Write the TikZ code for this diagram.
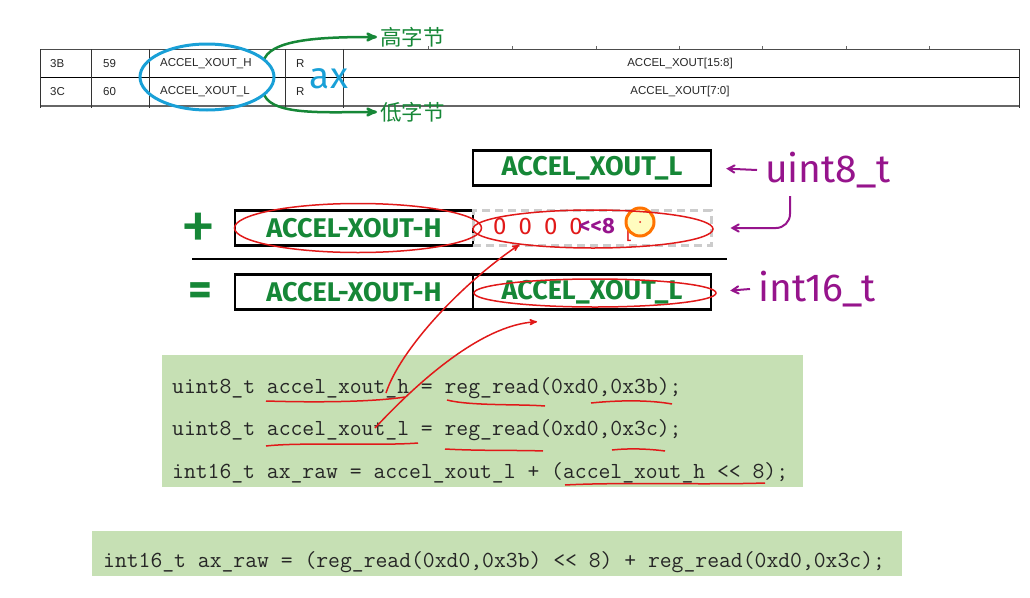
\documentclass[tikz,border=0pt]{standalone}
\usepackage{fontspec}
\usepackage{xcolor}
\usepackage{tikz}
\usetikzlibrary{arrows,positioning,shapes.geometric}
\setmainfont{Liberation Sans}
\newfontfamily\cjk{Noto Sans CJK SC}
\newfontfamily\inkfont{Fira Sans}
\definecolor{inkgreen}{RGB}{22,135,55}
\definecolor{inkpurple}{RGB}{150,20,140}
\definecolor{inkred}{RGB}{225,25,25}
\definecolor{inkblue}{RGB}{25,160,215}
\definecolor{codebg}{RGB}{198,224,180}

\begin{document}
\begin{tikzpicture}[x=1pt,y=-1pt]
  \useasboundingbox (0,0) rectangle (1030,597);
  \begin{scope}[node distance=238pt,on grid,>=stealth',
    cell/.style={font=\fontsize{11.5}{13}\selectfont,text=black!85,anchor=west,inner sep=0pt},
    block/.style={rectangle,draw,line width=2.5pt,minimum width=238pt,minimum height=35pt,font=\inkfont\bfseries\fontsize{27}{28}\selectfont,text=inkgreen},
    padbox/.style={rectangle,draw=gray!40,dash pattern=on 8pt off 5pt,line width=3pt,minimum width=238pt,minimum height=35pt},
    ring/.style={ellipse,draw=inkred,line width=1.5pt,inner sep=0pt},
    typenote/.style={font=\inkfont\fontsize{39}{40}\selectfont,text=inkpurple,anchor=west,inner sep=8pt},
    codeline/.style={font=\ttfamily\fontsize{23}{24}\selectfont,text=black!85,anchor=base west,inner sep=0pt},
    codebox/.style={rectangle,fill=codebg,inner sep=0pt}]

    % register map rows
    \draw[black!70,line width=1pt] (40,49) -- (1019,49);
    \draw[black,line width=1pt] (40,77) -- (1019,77);
    \draw[black!60,line width=1.5pt] (40,106) -- (1019,106);
    \foreach \x in {40,91,149,285,343,1019}
      \draw[black!80,line width=1pt] (\x,49) -- (\x,108);
    \foreach \x in {428,512,596,679,762,846,929}
      \draw[black!60] (\x,46) -- (\x,49);

    \node[cell] (addr_3b) at (50,64) {3B};
    \node[cell] (dec_59) at (103,64) {59};
    \node[cell] (name_h) at (160,64) {ACCEL\_XOUT\_H};
    \node[cell] (rw_h) at (296,64) {R};
    \node[cell,anchor=center] (bits_h) at (680,64) {ACCEL\_XOUT[15:8]};
    \node[cell] (addr_3c) at (50,92) {3C};
    \node[cell] (dec_60) at (103,92) {60};
    \node[cell] (name_l) at (160,92) {ACCEL\_XOUT\_L};
    \node[cell] (rw_l) at (296,92) {R};
    \node[cell,anchor=center] (bits_l) at (680,92) {ACCEL\_XOUT[7:0]};

    \node[ellipse,draw=inkblue,line width=3pt,minimum width=134pt,minimum height=66pt] (xout_ring) at (207,77) {};
    \node[font=\inkfont\fontsize{37}{37}\selectfont,text=inkblue] (ax_note) at (329,79) {ax};
    \node[font=\cjk\fontsize{21.5}{22}\selectfont,text=inkgreen,anchor=west,inner sep=3pt] (hi_byte) at (377,37) {高字节};
    \node[font=\cjk\fontsize{21.5}{22}\selectfont,text=inkgreen,anchor=west,inner sep=3pt] (lo_byte) at (377,112) {低字节};
    \draw[->,inkgreen,line width=2.5pt] (xout_ring.18) .. controls +(10,-20) and +(-50,0) .. (hi_byte.west);
    \draw[->,inkgreen,line width=2.5pt] (xout_ring.-18) .. controls +(10,20) and +(-50,0) .. (lo_byte.west);

    % byte layout
    \node[block] (sum_h) at (354,228) {ACCEL-XOUT-H};
    \node[padbox,right=of sum_h] (shift_pad) {};
    \node[block,above=60pt of shift_pad] (top_l) {ACCEL\_XOUT\_L};
    \node[block,below=64pt of sum_h] (res_h) {ACCEL-XOUT-H};
    \node[block,right=of res_h] (res_l) {ACCEL\_XOUT\_L};
    \node[font=\inkfont\fontsize{72}{72}\selectfont,text=inkgreen,inner sep=0pt] (plus_sign) at (198,232) {+};
    \node[font=\inkfont\bfseries\fontsize{46}{46}\selectfont,text=inkgreen,inner sep=0pt] (eq_sign) at (200,294) {=};
    \coordinate (rule_l) at (192,259);
    \coordinate (rule_r) at (727,259);
    \draw[line width=1.2pt] (rule_l) -- (rule_r);

    \node[typenote] (uint8_note) at (757,170) {uint8\_t};
    \node[typenote] (int16_note) at (750,289) {int16\_t};
    \draw[->,>=angle 60,inkpurple,line width=2pt,shorten >=14pt] (uint8_note.west) -- (top_l.east);
    \draw[->,>=angle 60,inkpurple,line width=2pt,shorten >=18pt] (int16_note.west) -- (res_l.east);
    \draw[->,>=angle 60,inkpurple,line width=2pt,rounded corners=14pt,shorten >=18pt] ([xshift=33pt]uint8_note.south west) |- (shift_pad.east);

    \node[font=\inkfont\fontsize{24}{24}\selectfont,text=inkred] (pad_zeros) at (538,226) {0\hspace{12pt}0\hspace{12pt}0\hspace{12pt}0};
    \node[font=\inkfont\bfseries\fontsize{22}{22}\selectfont,text=inkpurple] (shift_op) at (597,226) {<\kern0pt<8};
    \node[font=\inkfont\fontsize{18}{18}\selectfont,text=inkred] (pad_bracket) at (629,233) {[};
    \node[circle,draw=orange!90!red,line width=3pt,fill=yellow!25,minimum size=28pt,inner sep=0pt] (cursor_mark) at (640,222) {};
    \fill[inkred] (cursor_mark.center) circle (1pt);

    \node[ring,minimum width=247pt,minimum height=49pt] (hi_ring) at (358,228) {};
    \node[ring,minimum width=240pt,minimum height=38pt] (pad_ring) at (593,229) {};
    \node[ring,minimum width=242pt,minimum height=28pt] (lo_ring) at (595,293) {};

    % code blocks
    \node[codebox,minimum width=641pt,minimum height=132pt] (code_box_a) at (482.5,421) {};
    \node[codeline] (code_h) at (172,393) {uint8\_t accel\_xout\_h = reg\_read(0xd0,0x3b);};
    \node[codeline] (code_l) at (172,435.5) {uint8\_t accel\_xout\_l = reg\_read(0xd0,0x3c);};
    \node[codeline] (code_raw) at (172,478) {int16\_t ax\_raw = accel\_xout\_l + (accel\_xout\_h <\kern0pt< 8);};
    \node[codebox,minimum width=810pt,minimum height=45pt] (code_box_b) at (497,553.5) {};
    \node[codeline] (code_one) at (103,567) {int16\_t ax\_raw = (reg\_read(0xd0,0x3b) <\kern0pt< 8) + reg\_read(0xd0,0x3c);};

    \draw[inkred,line width=1.5pt] (266,401) .. controls (330,403) and (380,401) .. (405,397);
    \draw[inkred,line width=1.5pt] (447,400) .. controls (470,406) and (520,404) .. (545,406);
    \draw[inkred,line width=1.5pt] (591,403) .. controls (620,400) and (650,400) .. (672,404);
    \draw[inkred,line width=1.5pt] (266,446) .. controls (300,442) and (380,446) .. (418,443);
    \draw[inkred,line width=1.5pt] (445,449) .. controls (480,451) and (520,450) .. (543,451);
    \draw[inkred,line width=1.5pt] (612,450) .. controls (630,448) and (650,449) .. (665,451);
    \draw[inkred,line width=1.5pt] (565,485) .. controls (620,482) and (700,485) .. (765,483);

    \coordinate (h_ink) at (386,393);
    \coordinate (l_ink) at (375,428);
    \draw[->,inkred,line width=1.5pt] (h_ink) .. controls (400,350) and (460,285) .. (pad_ring.192);
    \draw[->,inkred,line width=1.5pt] (l_ink) .. controls (415,385) and (480,325) .. ([shift={(-58pt,-14pt)}]lo_ring.south);
  \end{scope}
\end{tikzpicture}
\end{document}
